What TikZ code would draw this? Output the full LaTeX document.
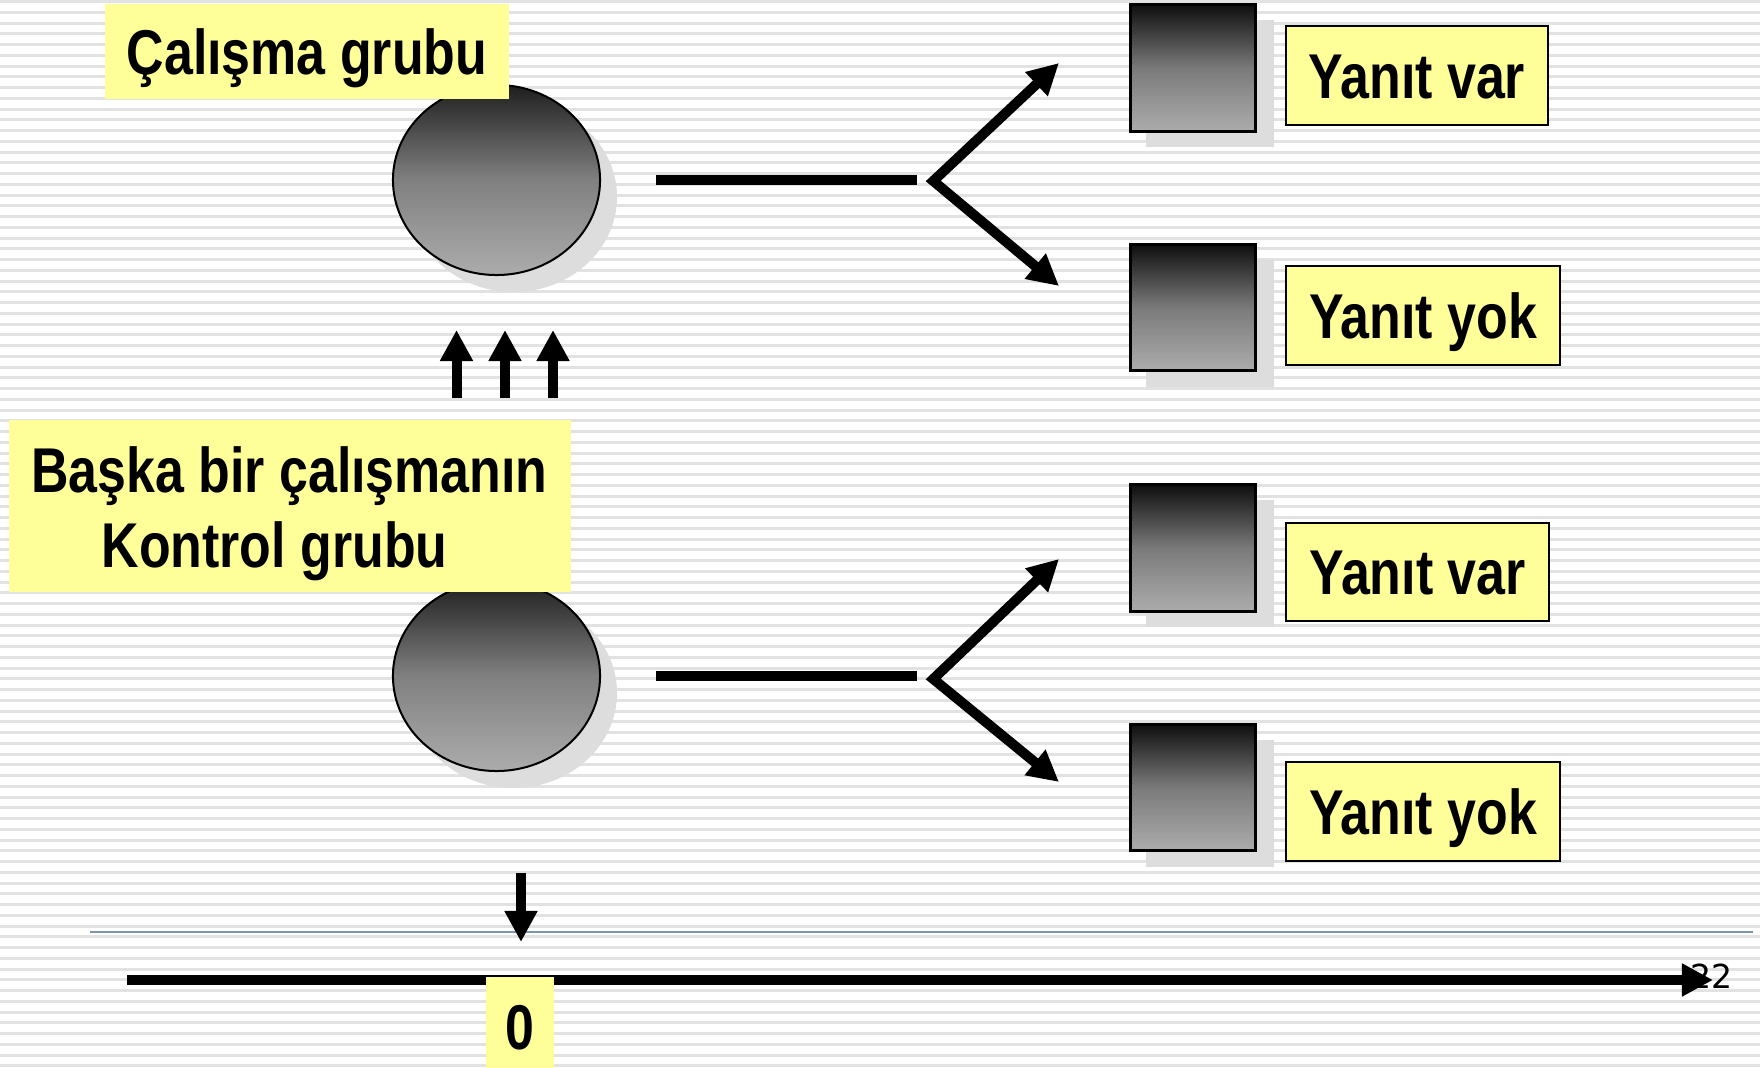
\documentclass[tikz,border=0pt]{standalone}
\usepackage{fontspec}
\usepackage{tikz}
\usetikzlibrary{positioning}
\usetikzlibrary{shapes.geometric}
\usetikzlibrary{arrows.meta}
\newfontfamily\narrowbold[FakeStretch=0.82]{Liberation Sans}
\newfontfamily\pagenumfont{DejaVu Sans}
\definecolor{boxyellow}{HTML}{FFFF99}
\definecolor{stripec}{HTML}{E2E2E2}
\definecolor{shadowc}{HTML}{DDDDDD}
\definecolor{balltop}{HTML}{1E1E1E}
\definecolor{ballmid}{HTML}{808080}
\definecolor{ballbot}{HTML}{ACACAC}
\definecolor{sqtop}{HTML}{0E0E0E}
\definecolor{sqmid}{HTML}{7A7A7A}
\definecolor{sqbot}{HTML}{ACACAC}
\definecolor{rulec}{HTML}{7D95AB}
\tikzset{% looks of the slide
        stripe/.style={draw=stripec, line width=0.03cm},
        lbl/.style={font=\narrowbold\bfseries\fontsize{18pt}{21pt}\selectfont,
                    text height=12.9pt, text depth=0pt, inner sep=0pt},
        notebox/.style={lbl, fill=boxyellow},
        answerbox/.style={notebox, draw=black, line width=0.02cm, minimum height=0.98cm},
        ball/.style={ellipse, draw=black, line width=0.02cm, inner sep=0pt,
                     minimum width=2.07cm, minimum height=1.9cm,
                     top color=balltop, bottom color=ballbot, middle color=ballmid},
        outcome/.style={rectangle, draw=black, line width=0.03cm, inner sep=0pt,
                        minimum width=1.25cm, minimum height=1.265cm,
                        top color=sqtop, bottom color=sqbot, middle color=sqmid},
        bar/.style={line width=0.1cm},
        fatarrow/.style={line width=0.1cm, -{Triangle[length=0.31cm, width=0.31cm]}},
        fork/.style={line width=0.1cm, line join=miter,
                     {Triangle[length=0.31cm, width=0.31cm]}-{Triangle[length=0.31cm, width=0.31cm]}}
        }

\begin{document}
\begin{tikzpicture}[x=0.01cm, y=-0.01cm]
 \useasboundingbox (0,0) rectangle (1760,1068);
 \fill[white] (0,0) rectangle (1760,1068);
 \foreach \k in {0,...,99}
   \draw[stripe] (0,{1.7+10.75*\k}) -- (1760,{1.7+10.75*\k});
% shadows
 \fill[shadowc] (513.5,197) ellipse [x radius=103.5, y radius=95];
 \fill[shadowc] (513.5,693) ellipse [x radius=103.5, y radius=95];
 \foreach \y in {68,307.5,548,787.5}
   \fill[shadowc] (1145.5,{\y-47.5}) rectangle (1273.5,{\y+79.5});
% groups
 \node[ball] (study) at (496.5,180) {};
 \node[ball] (control) at (496.5,676) {};
 \node[notebox, minimum width=4.04cm, minimum height=0.95cm] (studylbl) at (307,51.5) {Çalışma grubu};
 \node[notebox, minimum width=5.62cm, minimum height=1.72cm] (controlbox) at (290,506) {};
 \node[lbl, anchor=base] (controltop) at (289.5,493) {Başka bir çalışmanın};
 \node[lbl, anchor=base] (controlbot) at (274.5,568) {Kontrol grubu};
% outcomes
 \node[outcome] (sqA) at (1193,68) {};
 \node[outcome] (sqB) at (1193,307.5) {};
 \node[outcome] (sqC) at (1193,548) {};
 \node[outcome] (sqD) at (1193,787.5) {};
 \node[answerbox, minimum width=2.62cm] (varA) at (1417,75.5) {Yanıt var};
 \node[answerbox, minimum width=2.74cm] (yokA) at (1423,315.5) {Yanıt yok};
 \node[answerbox, minimum width=2.63cm] (varB) at (1417.5,572) {Yanıt var};
 \node[answerbox, minimum width=2.74cm] (yokB) at (1423,811.5) {Yanıt yok};
% forks
 \coordinate (forkA) at ([xshift=3.32cm, yshift=-0.01cm]study.east);
 \coordinate (forkB) at ([xshift=3.32cm, yshift=-0.03cm]control.east);
 \coordinate (tipA1) at (1059,63);
 \coordinate (tipA2) at (1059,286);
 \coordinate (tipB1) at (1059,559);
 \coordinate (tipB2) at (1059,782);
 \draw[bar] ([xshift=0.55cm]study.east) -- ([xshift=3.16cm]study.east);
 \draw[bar] ([xshift=0.55cm]control.east) -- ([xshift=3.16cm]control.east);
 \draw[fork] (tipA1) -- (forkA) -- (tipA2);
 \draw[fork] (tipB1) -- (forkB) -- (tipB2);
% arrows between the groups
 \foreach \x in {456.5,505,553}
   \draw[fatarrow] (\x,398) -- (\x,330);
% time axis
 \draw[draw=rulec, line width=0.015cm] (90,932) -- (1753,932);
 \draw[fatarrow] (521,873) -- (521,942);
 \node[anchor=base east, font=\pagenumfont\fontsize{9.4pt}{11pt}\selectfont, inner sep=0pt] (pagenum) at (1733,989) {22};
 \draw[fatarrow] (127,980) -- (1713,980);
 \node[notebox, minimum width=0.68cm, minimum height=0.91cm] (zerobox) at (520,1022.5) {};
 \node[lbl, anchor=base] (zero) at (520,1050) {0};
\end{tikzpicture}
\end{document}
